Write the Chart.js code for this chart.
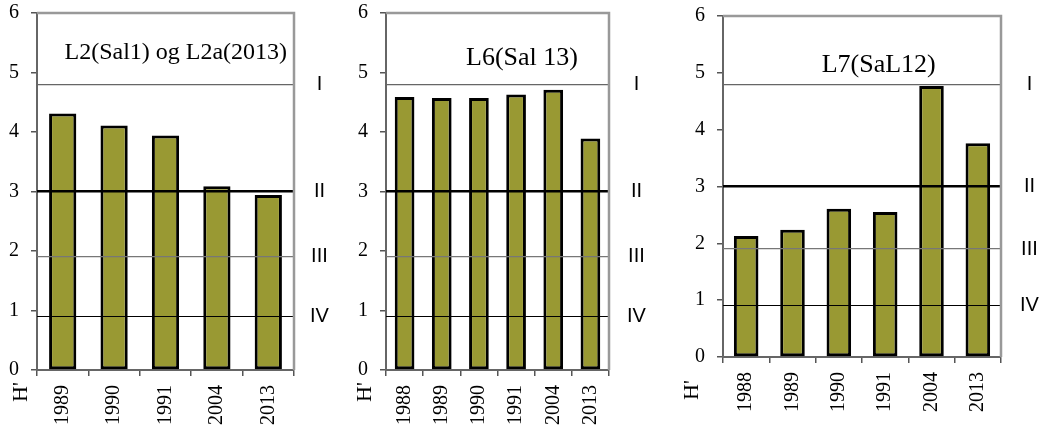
<!DOCTYPE html>
<html>
<head>
<meta charset="utf-8">
<script src="https://cdn.jsdelivr.net/npm/chart.js@4"></script>
<style>
  body { margin: 0; background: #fff; }
  canvas { position: absolute; top: 0; }
</style>
</head>
<body>
<canvas id="c1" width="340" height="432" style="left:0px"></canvas>
<canvas id="c2" width="340" height="432" style="left:340px"></canvas>
<canvas id="c3" width="367" height="432" style="left:680px"></canvas>
<script>
// data
const years1 = ["1989", "1990", "1991", "2004", "2013"];
const values1 = [4.31, 4.11, 3.94, 3.09, 2.94];

const years2 = ["1988", "1989", "1990", "1991", "2004", "2013"];
const values2 = [4.59, 4.57, 4.57, 4.63, 4.71, 3.89];

const years3 = ["1988", "1989", "1990", "1991", "2004", "2013"];
const values3 = [2.13, 2.24, 2.61, 2.55, 4.77, 3.76];

const titles = ["L2(Sal1) og L2a(2013)", "L6(Sal 13)", "L7(SaL12)"];
const yTicks = [0, 1, 2, 3, 4, 5, 6];
const classLimits = [4.8, 3.0, 1.9, 0.9];
const classNames = ["I", "II", "III", "IV"];

// layout per panel
const panels = [
  { id: "c1", labels: years1, values: values1, title: titles[0],
    left: 37, right: 46, top: 13, bottom: 62, romanPad: 16,
    titleSize: 24, titleX: 0.54, titleBase: 5.22, hX: 21.5, hY: 392 },
  { id: "c2", labels: years2, values: values2, title: titles[1],
    left: 46, right: 71, top: 13, bottom: 62, romanPad: 18,
    titleSize: 26, titleX: 0.61, titleBase: 5.13, hX: 25, hY: 392 },
  { id: "c3", labels: years3, values: values3, title: titles[2],
    left: 43, right: 46, top: 16, bottom: 75, romanPad: 19,
    titleSize: 26, titleX: 0.56, titleBase: 5.02, hX: 12, hY: 390 },
];

const serif = "'Liberation Serif', 'Times New Roman', serif";
const sans = "'Liberation Sans', Arial, sans-serif";

const panelText = {
  id: "panelText",
  afterDraw(chart, args, opts) {
    const { ctx, chartArea: a, scales: { y } } = chart;
    ctx.save();
    // top + right frame
    ctx.strokeStyle = "#999";
    ctx.lineWidth = 2.5;
    ctx.beginPath();
    ctx.moveTo(a.left, a.top);
    ctx.lineTo(a.right, a.top);
    ctx.lineTo(a.right, a.bottom);
    ctx.stroke();
    // title inside plot
    ctx.fillStyle = "#000";
    ctx.font = opts.titleSize + "px " + serif;
    ctx.textAlign = "center";
    ctx.textBaseline = "alphabetic";
    ctx.fillText(opts.title, a.left + a.width * opts.titleX, y.getPixelForValue(opts.titleBase));
    // H' label
    ctx.translate(opts.hX, opts.hY);
    ctx.rotate(-Math.PI / 2);
    ctx.font = "22px " + serif;
    ctx.textBaseline = "middle";
    ctx.fillText("H'", 0, 0);
    ctx.restore();
  },
};

function noVPad(s) {
  s.paddingTop = 0;
  s.paddingBottom = 0;
}

panels.forEach((p) => {
  new Chart(document.getElementById(p.id), {
    type: "bar",
    data: {
      labels: p.labels,
      datasets: [
        {
          data: p.values,
          backgroundColor: "#999933",
          borderColor: "#000",
          borderWidth: 3,
          borderSkipped: false,
          categoryPercentage: 1,
          barPercentage: 0.53,
        },
      ],
    },
    options: {
      responsive: false,
      animation: false,
      devicePixelRatio: 1,
      layout: { padding: { top: p.top, left: 0, right: 0, bottom: 0 } },
      plugins: {
        legend: { display: false },
        tooltip: { enabled: false },
        panelText: p,
      },
      scales: {
        x: {
          afterFit: (s) => { s.height = p.bottom; },
          grid: { drawOnChartArea: false, tickLength: 6, color: "#555", lineWidth: 1.5 },
          border: { color: "#666", width: 2 },
          ticks: {
            autoSkip: false, minRotation: 90, maxRotation: 90, padding: 9,
            color: "#000", font: { family: serif, size: 20 },
          },
        },
        y: {
          min: 0, max: 6,
          afterFit: (s) => { s.width = p.left; noVPad(s); },
          afterBuildTicks: (s) => { s.ticks = yTicks.map((v) => ({ value: v })); },
          grid: { drawOnChartArea: false, tickLength: 6, color: "#555", lineWidth: 1.5 },
          border: { color: "#666", width: 2 },
          ticks: { padding: 12, color: "#000", font: { family: serif, size: 20 } },
        },
        y2: {
          position: "right",
          min: 0, max: 6,
          afterFit: (s) => { s.width = p.right; noVPad(s); },
          afterBuildTicks: (s) => { s.ticks = classLimits.map((v) => ({ value: v })); },
          grid: {
            z: 1,
            drawTicks: false,
            color: (c) => (c.index % 2 === 1 ? "#000" : (c.index === 0 ? "#666" : "#777")),
            lineWidth: (c) => (c.index === 1 ? 2.5 : (c.index === 3 ? 1 : 1.3)),
          },
          border: { display: false },
          ticks: {
            crossAlign: "center",
            padding: p.romanPad,
            color: "#000",
            font: { family: sans, size: 20 },
            callback: (v) => classNames[classLimits.indexOf(v)],
          },
        },
      },
    },
    plugins: [panelText],
  });
});
</script>
</body>
</html>
